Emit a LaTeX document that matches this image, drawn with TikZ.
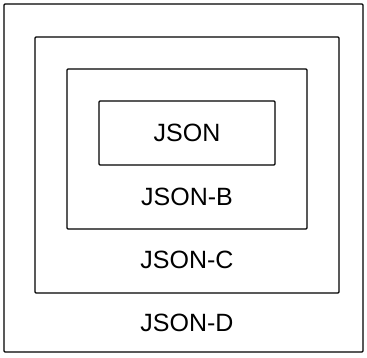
\documentclass[tikz,border=0pt]{standalone}
\usepackage{fontspec}
\setmainfont{Liberation Sans}
\usetikzlibrary{positioning}
\tikzset{
    layer/.style={
        rectangle, draw=black, line width=1.3pt, rounded corners=1pt,
        inner sep=0pt, fill=none
    },
    tag/.style={font=\fontsize{25}{30}\selectfont, inner sep=0pt}
}
\begin{document}
\begin{tikzpicture}[x=1pt, y=-1pt]
\useasboundingbox (0,0) rectangle (367,358);

% Nested layers (outside in)
\node[layer, minimum width=359pt, minimum height=348pt] (jsond) at (183.5,178) {};
\node[layer, minimum width=304pt, minimum height=256pt] (jsonc) at (187,165) {};
\node[layer, minimum width=240pt, minimum height=160pt] (jsonb) at (187,149) {};
\node[layer, minimum width=176pt, minimum height=64pt] (json) at (187,133) {};

% Labels
\node[tag] (tagjson) at (json.center) {JSON};
\node[tag] (tagb) at (187,197) {JSON-B};
\node[tag] (tagc) at (187,260) {JSON-C};
\node[tag] (tagd) at (187,323) {JSON-D};

\end{tikzpicture}
\end{document}
